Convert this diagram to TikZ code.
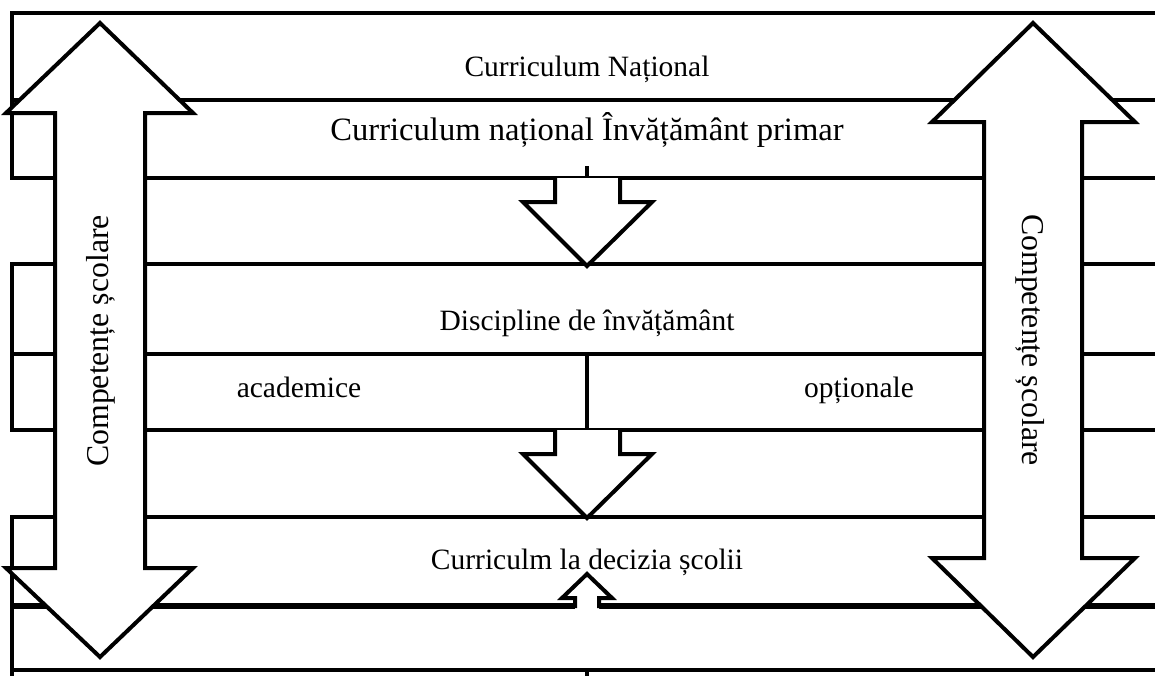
\documentclass[tikz,border=0pt]{standalone}
\usepackage{fontspec}
\setmainfont{Liberation Serif}
\begin{document}
\begin{tikzpicture}[x=0.5pt,y=-0.5pt,
  rule/.style={line width=2pt},
  heavyrule/.style={line width=3.3pt},
  blockarrow/.style={draw=black,fill=white,line width=2pt,line join=miter},
  lbl/.style={font=\fontsize{14.75}{17}\selectfont,inner sep=0pt,anchor=center,
    text height=0.68em,text depth=0.2em},
  biglbl/.style={lbl,font=\fontsize{16.3}{19}\selectfont},
  sidelbl/.style={lbl,font=\fontsize{15.9}{19}\selectfont}]
\useasboundingbox (0,0) rectangle (1155,676);

% upper band: national curriculum
\draw[rule] (1155,13) -- (12,13) -- (12,178) -- (1155,178);
\draw[rule] (12,100) -- (1155,100);
\draw[rule] (587,166) -- (587,178);

% middle band: subjects
\draw[rule] (1155,264) -- (12,264) -- (12,430) -- (1155,430);
\draw[rule] (12,354) -- (1155,354);
\draw[rule] (587,354) -- (587,430);

% lower band: school decision
\draw[rule] (1155,517) -- (12,517) -- (12,676);
\draw[heavyrule] (12,606) -- (575,606);
\draw[heavyrule] (599,606) -- (1155,606);
\draw[rule] (12,670) -- (1155,670);
\draw[rule] (587,670) -- (587,676);

% block arrows between the bands
\draw[blockarrow] (555,178) -- (555,202) -- (523,202) -- (587,266)
  -- (652,202) -- (620,202) -- (620,178);
\draw[blockarrow] (555,430) -- (555,454) -- (523,454) -- (587,518)
  -- (652,454) -- (620,454) -- (620,430);
\fill[white] (575,610) -- (575,598) -- (562,598) -- (587,574)
  -- (612,598) -- (599,598) -- (599,610) -- cycle;
\draw[rule,line join=miter] (575,608) -- (575,598) -- (562,598) -- (587,574)
  -- (612,598) -- (599,598) -- (599,608);

% double arrows on both sides
\draw[blockarrow] (100,23) -- (193,113) -- (145,113) -- (145,568) -- (193,568)
  -- (100,657) -- (6,568) -- (55,568) -- (55,113) -- (6,113) -- cycle;
\draw[blockarrow] (1033,23) -- (1135,122) -- (1082,122) -- (1082,558) -- (1135,558)
  -- (1033,657) -- (932,558) -- (984,558) -- (984,122) -- (932,122) -- cycle;

% labels
\node[lbl] (title) at (587,72) {Curriculum Național};
\node[biglbl] (primar) at (587,136) {Curriculum național Învățământ primar};
\node[lbl] (discipline) at (587,326) {Discipline de învățământ};
\node[lbl] (academice) at (299,393) {academice};
\node[lbl] (optionale) at (859,393) {opționale};
\node[lbl] (decizia) at (587,565) {Curriculm la decizia școlii};
\node[sidelbl,rotate=90] (compL) at (104,341) {Competențe școlare};
\node[sidelbl,rotate=-90] (compR) at (1027,340) {Competențe școlare};
\end{tikzpicture}
\end{document}
